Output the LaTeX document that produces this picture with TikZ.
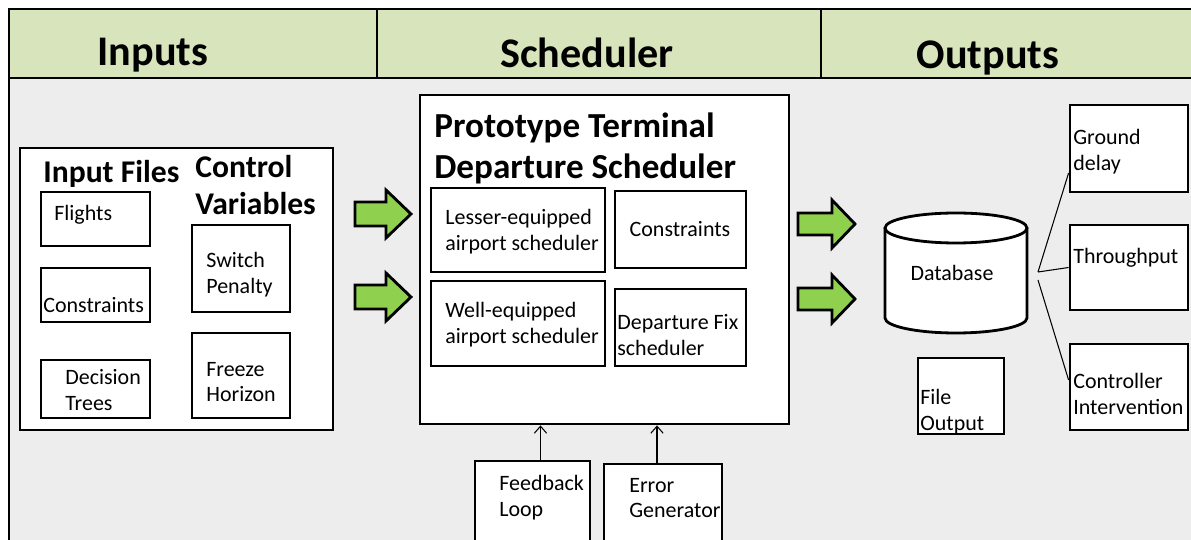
\documentclass[tikz,border=0pt]{standalone}
\usepackage{fontspec}
\setmainfont{Carlito}
\usetikzlibrary{fit,arrows.meta}
\definecolor{hdrgreen}{HTML}{D8E4BC}
\definecolor{bodygray}{HTML}{EDEDED}
\definecolor{arrgreen}{HTML}{8FD14F}
\tikzset{
  box/.style={draw, line width=1.6pt, fill=white, inner sep=0pt},
  frame/.style={draw, line width=1.7pt},
  txt/.style={font=\fontsize{12.5}{14.7}\selectfont, inner sep=0pt, align=left, anchor=west},
  hdrtxt/.style={font=\fontsize{24}{28}\selectfont\bfseries, inner sep=0pt},
  grptxt/.style={font=\fontsize{18}{21.5}\selectfont\bfseries, inner sep=0pt, align=left, anchor=west},
  ttltxt/.style={font=\fontsize{20}{23.3}\selectfont\bfseries, inner sep=0pt, align=left, anchor=west},
  garrow/.style={draw, line width=1.6pt, fill=arrgreen, line join=miter},
  thin/.style={draw, line width=0.6pt},
  uparrow/.style={draw, line width=0.6pt, -{Straight Barb[length=4pt,width=7pt]}}
}
\begin{document}
\begin{tikzpicture}[x=0.02cm,y=-0.02cm]
\useasboundingbox (0,0) rectangle (1191,540);
\fill[white] (0,0) rectangle (1191,540);
% body and header
\fill[bodygray] (9,78) rectangle (1200,550);
\fill[hdrgreen] (9,9) rectangle (1200,78);
\draw[frame] (9,550) -- (9,9) -- (1200,9);
\draw[frame] (9,78) -- (1200,78);
\draw[frame] (377,9) -- (377,78);
\draw[frame] (821,9) -- (821,78);
\node[hdrtxt] (hin) at (153,55) {Inputs};
\node[hdrtxt] (hsch) at (587,53) {Scheduler};
\node[hdrtxt] (hout) at (988,58) {Outputs};

% Inputs group
\node[box, fit={(20,148) (333,430)}] (ingrp) {};
\node[grptxt] (tif) at (43,174) {Input Files};
\node[grptxt] (tcv) at (195,185) {Control\\Variables};
\node[box, fit={(41,192) (150,246)}] (flights) {};
\node[txt] (tfl) at (54,215) {Flights};
\node[box, fit={(41,268) (150,322)}] (incons) {};
\node[txt] (tic) at (43,305) {Constraints};
\node[box, fit={(41,360) (150,418)}] (dtree) {};
\node[txt] (tdt) at (65,390) {Decision\\Trees};
\node[box, fit={(192,225) (290,312)}] (swp) {};
\node[txt] (tsw) at (206,275) {Switch\\Penalty};
\node[box, fit={(192,333) (290,418)}] (frz) {};
\node[txt] (tfr) at (206,382) {Freeze\\Horizon};

% green arrows left
\draw[garrow, shift={(355,214)}] (0,-12) -- (31,-12) -- (31,-24) -- (56,0) -- (31,24) -- (31,12) -- (0,12) -- cycle;
\draw[garrow, shift={(355,297)}] (0,-12) -- (31,-12) -- (31,-24) -- (56,0) -- (31,24) -- (31,12) -- (0,12) -- cycle;

% Scheduler
\node[box, fit={(420,95) (789,424)}] (sched) {};
\node[ttltxt] (tsched) at (434,148) {Prototype Terminal\\Departure Scheduler};
\node[box, fit={(431,188) (605,272)}] (lesser) {};
\node[txt] (tls) at (445,232) {Lesser-equipped\\airport scheduler};
\node[box, fit={(615,191) (746,268)}] (scons) {};
\node[txt, anchor=center] (tsc) at (680,229) {Constraints};
\node[box, fit={(431,281) (605,366)}] (well) {};
\node[txt] (twe) at (445,325) {Well-equipped\\airport scheduler};
\node[box, fit={(615,289) (746,366)}] (depfix) {};
\node[txt] (tdf) at (617,335) {Departure Fix\\scheduler};

% feedback and error
\node[box, fit={(475,461) (590,550)}] (fb) {};
\node[txt] (tfb) at (499,498) {Feedback\\Loop};
\node[box, fit={(604,464) (722,550)}] (err) {};
\node[txt] (ter) at (629,498) {Error\\Generator};
\draw[uparrow] ([xshift=0.16cm]fb.north) -- ([xshift=0.16cm]fb.north |- sched.south);
\draw[uparrow] ([xshift=-0.12cm]err.north) -- ([xshift=-0.12cm]err.north |- sched.south);

% green arrows right
\draw[garrow, shift={(798,224)}] (0,-11) -- (34,-11) -- (34,-24) -- (57,0) -- (34,24) -- (34,11) -- (0,11) -- cycle;
\draw[garrow, shift={(798,299)}] (0,-11) -- (34,-11) -- (34,-24) -- (57,0) -- (34,24) -- (34,11) -- (0,11) -- cycle;

% Database cylinder
\fill[white] (885,228) -- (885,318) arc[start angle=180, end angle=360, x radius=1.42cm, y radius=0.3cm] -- (1027,228) -- cycle;
\fill[white] (956,228) ellipse [x radius=1.42cm, y radius=0.3cm];
\draw[line width=1.6pt] (885,228) -- (885,318) arc[start angle=180, end angle=360, x radius=1.42cm, y radius=0.3cm] -- (1027,228);
\draw[line width=1.6pt] (956,228) ellipse [x radius=1.42cm, y radius=0.3cm];
\node[txt, anchor=center] (db) at (952,273) {Database};
\coordinate (fan) at (1038,272);
\coordinate (fan2) at (1038,280);

% File output
\node[box, fit={(918,358) (1004,434)}] (fout) {};
\node[txt] (tfo) at (920,412) {File\\Output};

% outputs
\node[box, fit={(1070,105) (1188,192)}] (gd) {};
\node[txt] (tgd) at (1073,152) {Ground\\delay};
\node[box, fit={(1070,225) (1188,310)}] (thr) {};
\node[txt] (tth) at (1073,258) {Throughput};
\node[box, fit={(1070,344) (1188,430)}] (ci) {};
\node[txt] (tci) at (1073,394) {Controller\\Intervention};

\draw[thin] (fan) -- ([yshift=-0.49cm]gd.west);
\draw[thin] (fan) -- (thr.west);
\draw[thin] (fan2) -- ([yshift=0.14cm]ci.west);
\end{tikzpicture}
\end{document}
